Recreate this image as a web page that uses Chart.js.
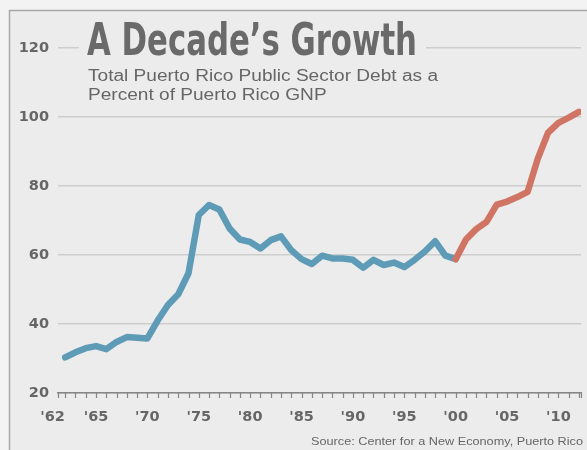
<!DOCTYPE html>
<html>
<head>
<meta charset="utf-8">
<script src="https://cdn.jsdelivr.net/npm/chart.js@4/dist/chart.umd.min.js"></script>
<style>
  html, body { margin: 0; padding: 0; background: #f3f3f3; }
  #wrap { width: 587px; height: 450px; position: relative; }
</style>
</head>
<body>
<div id="wrap"><canvas id="chart"></canvas></div>
<script>
const years = [
  1962, 1963, 1964, 1965, 1966, 1967, 1968, 1969, 1970, 1971,
  1972, 1973, 1974, 1975, 1976, 1977, 1978, 1979, 1980, 1981,
  1982, 1983, 1984, 1985, 1986, 1987, 1988, 1989, 1990, 1991,
  1992, 1993, 1994, 1995, 1996, 1997, 1998, 1999, 2000, 2001,
  2002, 2003, 2004, 2005, 2006, 2007, 2008, 2009, 2010, 2011, 2012
];
const debtPct = [
  30.3, 31.8, 33.0, 33.6, 32.7, 34.8, 36.2, 36.0, 35.8, 41.0,
  45.5, 48.6, 54.7, 71.6, 74.5, 73.2, 67.7, 64.5, 63.8, 61.9,
  64.3, 65.4, 61.4, 58.8, 57.4, 59.8, 59.0, 59.0, 58.6, 56.3,
  58.6, 57.1, 57.8, 56.5, 58.6, 61.0, 64.0, 59.8, 58.8, 64.5,
  67.5, 69.6, 74.6, 75.5, 76.8, 78.3, 88.0, 95.5, 98.3, 99.8, 101.5
];
// the last decade is drawn in red
const decadeStart = 2000;
const xLabels = { 1962: "'62", 1965: "'65", 1970: "'70", 1975: "'75", 1980: "'80",
  1985: "'85", 1990: "'90", 1995: "'95", 2000: "'00", 2005: "'05", 2010: "'10" };
const yTicks = [20, 40, 60, 80, 100, 120];

const titleText = "A Decade\u2019s Growth";
const subtitleLines = ["Total Puerto Rico Public Sector Debt as a", "Percent of Puerto Rico GNP"];
const sourceText = "Source: Center for a New Economy, Puerto Rico";

const BLUE = "#71aec9", BLUE_EDGE = "#5e9bb7";
const RED = "#e3887a", RED_EDGE = "#d07464";
const GRAY_TEXT = "#666666";
const AXIS = "#858585";

const points = years.map((y, i) => ({ x: y, y: debtPct[i] }));

function segColor(a, b) {
  return ctx => (ctx.p0.parsed.x >= decadeStart ? a : b);
}

// draw text squeezed/stretched to a given width
function fitText(ctx, text, x, y, width, align) {
  const w = ctx.measureText(text).width;
  ctx.save();
  ctx.translate(x, y);
  ctx.scale(width / w, 1);
  ctx.textAlign = align || "left";
  ctx.fillText(text, 0, 0);
  ctx.restore();
}

const decor = {
  id: "decor",
  beforeDraw(chart) {
    const ctx = chart.ctx;
    ctx.save();
    ctx.fillStyle = "#f3f3f3";
    ctx.fillRect(0, 0, chart.width, chart.height);
    ctx.fillStyle = "#ececec";
    ctx.fillRect(9.5, 10.5, chart.width, chart.height);
    ctx.strokeStyle = "#a8a8a8";
    ctx.lineWidth = 1.5;
    ctx.beginPath();
    ctx.moveTo(9.5, chart.height);
    ctx.lineTo(9.5, 10.5);
    ctx.lineTo(chart.width, 10.5);
    ctx.stroke();
    ctx.restore();
  },
  afterDraw(chart) {
    const ctx = chart.ctx;
    const xs = chart.scales.x;
    const bottom = chart.chartArea.bottom;
    ctx.save();

    // yearly tick marks hanging off the x axis
    ctx.strokeStyle = AXIS;
    ctx.lineWidth = 1.2;
    ctx.beginPath();
    const tickYears = [1961.3].concat(years, [2012.2]);
    tickYears.forEach(yr => {
      const px = Math.round(xs.getPixelForValue(yr)) + 0.5;
      ctx.moveTo(px, bottom);
      ctx.lineTo(px, bottom + 5);
    });
    ctx.stroke();

    // knock out the 120 gridline behind the title
    ctx.fillStyle = "#ececec";
    ctx.fillRect(79, 40, 347, 16);

    ctx.fillStyle = "#6a6a6a";
    ctx.textBaseline = "alphabetic";
    ctx.font = "bold 45px 'Liberation Sans Narrow', 'DejaVu Sans Condensed', sans-serif";
    fitText(ctx, titleText, 87, 55, 330);

    ctx.fillStyle = GRAY_TEXT;
    ctx.font = "16px 'Liberation Sans', Arial, sans-serif";
    const k = 350 / ctx.measureText(subtitleLines[0]).width;
    subtitleLines.forEach((line, i) => {
      ctx.save();
      ctx.translate(88, 81 + i * 18.6);
      ctx.scale(k, 1);
      ctx.fillText(line, 0, 0);
      ctx.restore();
    });

    ctx.font = "11.5px 'Liberation Sans', Arial, sans-serif";
    fitText(ctx, sourceText, 583, 445, 272, "right");
    ctx.restore();
  }
};

new Chart(document.getElementById("chart"), {
  type: "line",
  data: {
    datasets: [
      {
        // darker edge under the line
        data: points,
        borderWidth: 6.5,
        borderColor: BLUE_EDGE,
        segment: { borderColor: segColor(RED_EDGE, BLUE_EDGE) },
        borderCapStyle: "round",
        borderJoinStyle: "round",
        pointRadius: 0,
        tension: 0,
      },
      {
        data: points,
        borderWidth: 4.5,
        borderColor: BLUE,
        segment: { borderColor: segColor(RED, BLUE) },
        borderCapStyle: "round",
        borderJoinStyle: "round",
        pointRadius: 0,
        tension: 0,
      },
    ],
  },
  options: {
    responsive: true,
    maintainAspectRatio: false,
    animation: false,
    layout: { padding: { top: 48, right: 5, left: 0, bottom: 0 } },
    plugins: { legend: { display: false }, tooltip: { enabled: false }, title: { display: false } },
    scales: {
      x: {
        type: "linear",
        min: 1961.3,
        max: 2012.2,
        afterBuildTicks: scale => {
          scale.ticks = years.map(v => ({ value: v }));
        },
        afterFit: scale => { scale.height = 57; },
        ticks: {
          autoSkip: false,
          maxRotation: 0,
          padding: 8,
          color: GRAY_TEXT,
          font: { family: "'DejaVu Sans', sans-serif", weight: "bold", size: 14.5 },
          callback: v => {
            if (v === 1962) return xLabels[v] + "     ";
            return xLabels[v] || "";
          },
        },
        grid: { display: false },
        border: { display: true, color: AXIS, width: 1.5 },
      },
      y: {
        min: 20,
        max: 120,
        afterBuildTicks: scale => {
          scale.ticks = yTicks.map(v => ({ value: v }));
        },
        afterFit: scale => { scale.width = 58; },
        ticks: {
          padding: 9,
          color: GRAY_TEXT,
          font: { family: "'DejaVu Sans', sans-serif", weight: "bold", size: 14.5 },
        },
        grid: { color: "#cdcdcd", lineWidth: 1.5, drawTicks: false },
        border: { display: false },
      },
    },
  },
  plugins: [decor],
});
</script>
</body>
</html>
